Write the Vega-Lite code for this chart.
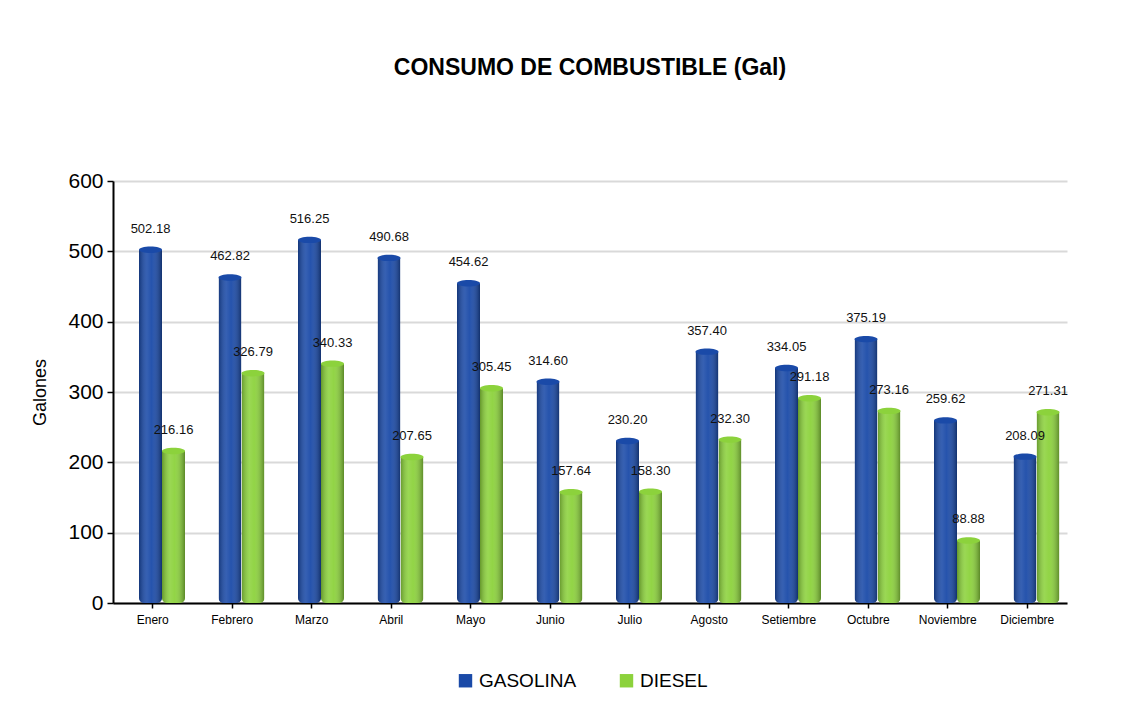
{
  "$schema": "https://vega.github.io/schema/vega-lite/v6.json",
  "autosize": "none",
  "width": 954,
  "height": 422,
  "padding": {"left": 113, "top": 181, "right": 63, "bottom": 105},
  "background": "white",
  "config": {"view": {"stroke": null}},
  "title": {
    "text": "CONSUMO DE COMBUSTIBLE (Gal)",
    "font": "Liberation Sans",
    "fontSize": 23,
    "fontWeight": "bold",
    "color": "#000000",
    "anchor": "middle",
    "offset": 90
  },
  "data": {
    "values": [
      {"mes": "Enero", "tipo": "GASOLINA", "galones": 502.18, "etiqueta": "502.18"},
      {"mes": "Enero", "tipo": "DIESEL", "galones": 216.16, "etiqueta": "216.16"},
      {"mes": "Febrero", "tipo": "GASOLINA", "galones": 462.82, "etiqueta": "462.82"},
      {"mes": "Febrero", "tipo": "DIESEL", "galones": 326.79, "etiqueta": "326.79"},
      {"mes": "Marzo", "tipo": "GASOLINA", "galones": 516.25, "etiqueta": "516.25"},
      {"mes": "Marzo", "tipo": "DIESEL", "galones": 340.33, "etiqueta": "340.33"},
      {"mes": "Abril", "tipo": "GASOLINA", "galones": 490.68, "etiqueta": "490.68"},
      {"mes": "Abril", "tipo": "DIESEL", "galones": 207.65, "etiqueta": "207.65"},
      {"mes": "Mayo", "tipo": "GASOLINA", "galones": 454.62, "etiqueta": "454.62"},
      {"mes": "Mayo", "tipo": "DIESEL", "galones": 305.45, "etiqueta": "305.45"},
      {"mes": "Junio", "tipo": "GASOLINA", "galones": 314.60, "etiqueta": "314.60"},
      {"mes": "Junio", "tipo": "DIESEL", "galones": 157.64, "etiqueta": "157.64"},
      {"mes": "Julio", "tipo": "GASOLINA", "galones": 230.20, "etiqueta": "230.20"},
      {"mes": "Julio", "tipo": "DIESEL", "galones": 158.30, "etiqueta": "158.30"},
      {"mes": "Agosto", "tipo": "GASOLINA", "galones": 357.40, "etiqueta": "357.40"},
      {"mes": "Agosto", "tipo": "DIESEL", "galones": 232.30, "etiqueta": "232.30"},
      {"mes": "Setiembre", "tipo": "GASOLINA", "galones": 334.05, "etiqueta": "334.05"},
      {"mes": "Setiembre", "tipo": "DIESEL", "galones": 291.18, "etiqueta": "291.18"},
      {"mes": "Octubre", "tipo": "GASOLINA", "galones": 375.19, "etiqueta": "375.19"},
      {"mes": "Octubre", "tipo": "DIESEL", "galones": 273.16, "etiqueta": "273.16"},
      {"mes": "Noviembre", "tipo": "GASOLINA", "galones": 259.62, "etiqueta": "259.62"},
      {"mes": "Noviembre", "tipo": "DIESEL", "galones": 88.88, "etiqueta": "88.88"},
      {"mes": "Diciembre", "tipo": "GASOLINA", "galones": 208.09, "etiqueta": "208.09"},
      {"mes": "Diciembre", "tipo": "DIESEL", "galones": 271.31, "etiqueta": "271.31"}
    ]
  },
  "encoding": {
    "x": {
      "field": "mes",
      "type": "nominal",
      "sort": ["Enero", "Febrero", "Marzo", "Abril", "Mayo", "Junio", "Julio", "Agosto", "Setiembre", "Octubre", "Noviembre", "Diciembre"],
      "scale": {"paddingInner": 0, "paddingOuter": 0},
      "axis": {
        "title": null,
        "labelAngle": 0,
        "labelFont": "Liberation Sans",
        "labelFontSize": 12,
        "labelColor": "#000000",
        "labelPadding": 6,
        "domainColor": "#000000",
        "domainWidth": 2,
        "tickColor": "#000000",
        "tickSize": 5,
        "tickWidth": 1.5,
        "grid": false
      }
    },
    "xOffset": {
      "field": "tipo",
      "type": "nominal",
      "sort": ["GASOLINA", "DIESEL"],
      "scale": {"range": [26, 72], "paddingInner": 0, "paddingOuter": 0}
    },
    "y": {
      "field": "galones",
      "type": "quantitative",
      "scale": {"domain": [0, 600], "nice": false},
      "axis": {
        "title": "Galones",
        "titleFont": "Liberation Sans",
        "titleFontSize": 18,
        "titleFontWeight": "normal",
        "titleColor": "#000000",
        "titlePadding": 18,
        "values": [0, 100, 200, 300, 400, 500, 600],
        "labelFont": "Liberation Sans",
        "labelFontSize": 21,
        "labelColor": "#000000",
        "labelPadding": 4,
        "domainColor": "#000000",
        "domainWidth": 2,
        "tickColor": "#000000",
        "tickSize": 6,
        "tickWidth": 1.5,
        "grid": true,
        "gridColor": "#d9d9d9",
        "gridWidth": 2
      }
    }
  },
  "layer": [
    {
      "mark": {"type": "bar", "cornerRadiusBottomLeft": 5, "cornerRadiusBottomRight": 5},
      "encoding": {
        "color": {
          "field": "tipo",
          "type": "nominal",
          "sort": ["GASOLINA", "DIESEL"],
          "scale": {"domain": ["GASOLINA", "DIESEL"], "range": ["#1a4aa8", "#8cd23c"]},
          "legend": {
            "title": null,
            "orient": "none",
            "legendX": 343,
            "legendY": 490,
            "direction": "horizontal",
            "symbolType": "square",
            "symbolSize": 180,
            "symbolStrokeWidth": 0,
            "labelFont": "Liberation Sans",
            "labelFontSize": 19,
            "labelColor": "#000000",
            "columnPadding": 40,
            "labelOffset": 4
          }
        }
      }
    },
    {
      "mark": {
        "type": "bar",
        "cornerRadiusBottomLeft": 5,
        "cornerRadiusBottomRight": 5,
        "fill": {
          "gradient": "linear",
          "x1": 0, "y1": 0, "x2": 1, "y2": 0,
          "stops": [
            {"offset": 0, "color": "rgba(0,0,0,0.28)"},
            {"offset": 0.35, "color": "rgba(255,255,255,0.12)"},
            {"offset": 0.55, "color": "rgba(255,255,255,0.05)"},
            {"offset": 1, "color": "rgba(0,0,0,0.35)"}
          ]
        }
      }
    },
    {
      "mark": {
        "type": "point",
        "shape": "M-1,0 A1,0.28 0 1,0 1,0 A1,0.28 0 1,0 -1,0 Z",
        "size": 529,
        "filled": true,
        "opacity": 1
      },
      "encoding": {
        "color": {
          "field": "tipo",
          "type": "nominal",
          "scale": {"domain": ["GASOLINA", "DIESEL"], "range": ["#16409a", "#7fc232"]},
          "legend": null
        }
      }
    },
    {
      "mark": {
        "type": "text",
        "font": "Liberation Sans",
        "fontSize": 13,
        "color": "#111111",
        "dy": -21
      },
      "encoding": {
        "text": {"field": "etiqueta", "type": "nominal"}
      }
    }
  ]
}
